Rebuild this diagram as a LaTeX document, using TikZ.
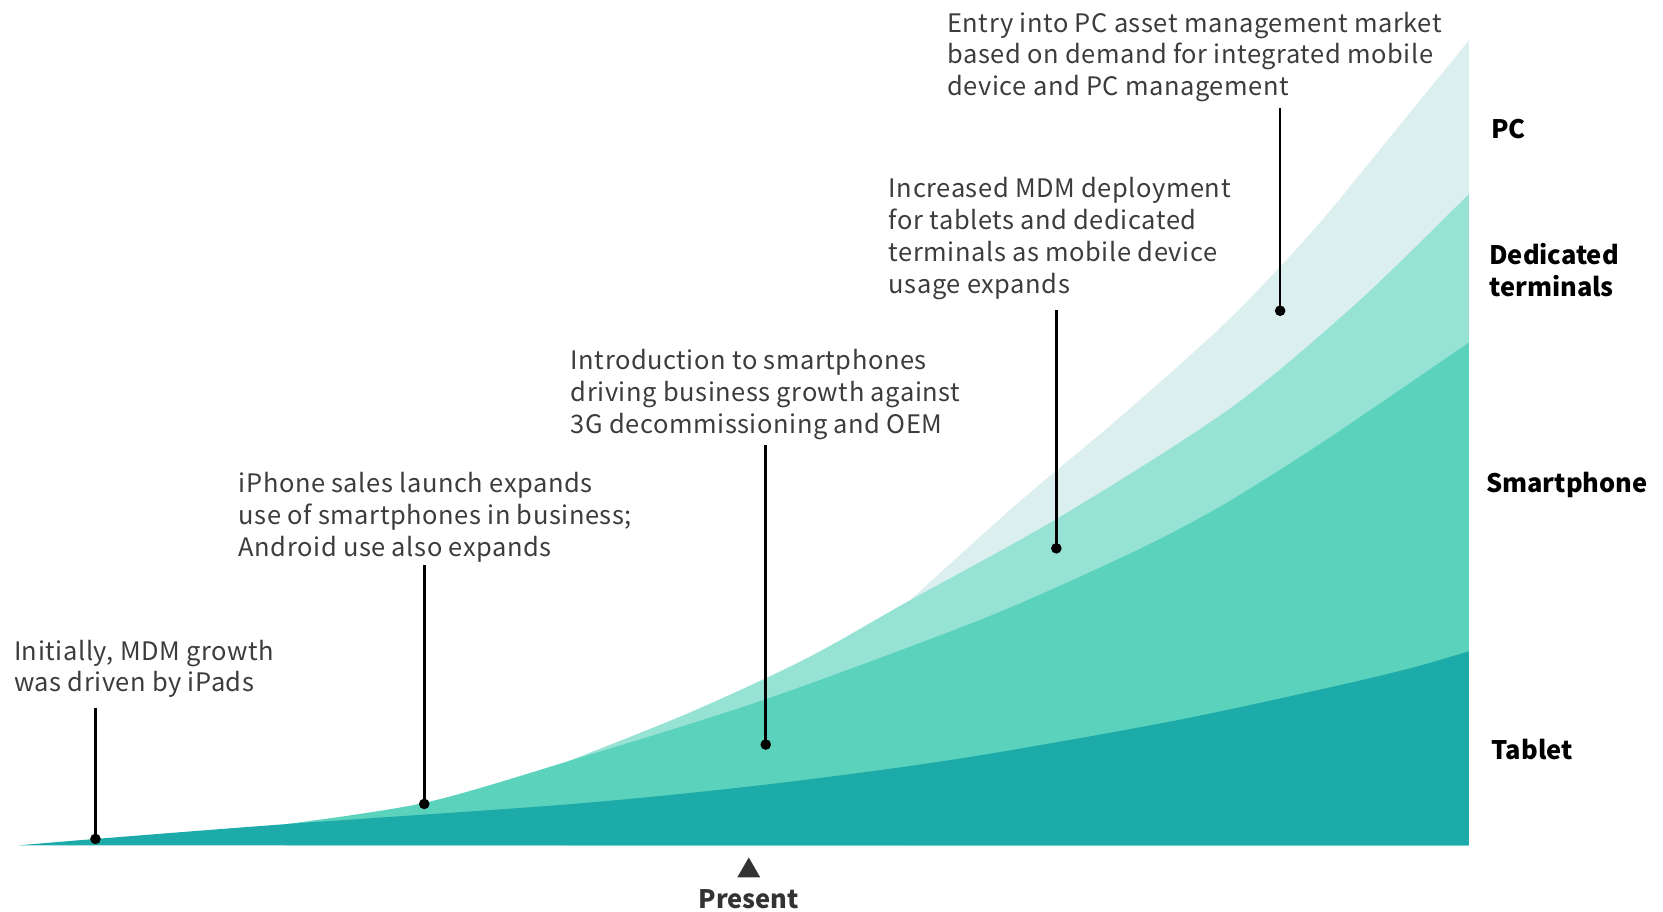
\documentclass[tikz,border=0pt]{standalone}
\usepackage{fontspec}
\newfontfamily\jpfont{Noto Sans CJK JP}
\newfontfamily\notefont[LetterSpace=2.2]{Noto Sans CJK JP}
\usetikzlibrary{shapes.geometric}
\definecolor{tabletc}{HTML}{1DABAA}
\definecolor{phonec}{HTML}{5BD2BC}
\definecolor{dedc}{HTML}{96E2D5}
\definecolor{pcc}{HTML}{DCEFEF}
\definecolor{notec}{HTML}{3C3C3C}
\definecolor{markc}{HTML}{333333}
\begin{document}
\begin{tikzpicture}[x=1pt,y=-1pt,
  note/.style={font=\notefont\fontsize{24}{30}\selectfont, text=notec, align=left, anchor=north west, inner sep=0pt},
  band/.style={font=\jpfont\bfseries\fontsize{24}{30}\selectfont, text=black, align=left, anchor=west, inner sep=0pt},
  dot/.style={circle, fill=black, inner sep=0pt, minimum size=10pt},
  lead/.style={line width=2.5pt, black}]
\useasboundingbox (0,0) rectangle (1568,859);

% stacked areas, top layer first
\fill[pcc] plot[smooth, tension=0.5] coordinates {(858,566) (960,474) (1060,390) (1160,300) (1240,215) (1310,130) (1385,38)}
  -- (1385,797) -- (858,797) -- cycle;
\fill[dedc] plot[smooth, tension=0.5] coordinates {(535,718) (650,672) (760,621) (858,566) (1000,487) (1160,385) (1280,285) (1385,183)}
  -- (1385,797) -- (535,797) -- cycle;
\fill[phonec] plot[smooth, tension=0.5] coordinates {(270,777) (400,757) (535,718) (720,660) (910,590) (1000,552) (1090,510) (1160,472) (1250,415) (1385,323)}
  -- (1385,797) -- (270,797) -- cycle;
\fill[tabletc] plot[smooth, tension=0.5] coordinates {(18,797) (90,791) (270,777) (540,758) (720,740) (900,716) (1100,681) (1250,649) (1330,630) (1385,614)}
  -- (1385,797) -- cycle;

% annotations
\node[note] (n1) at (13,603) {Initially, MDM growth\\was driven by iPads};
\node[note] (n2) at (225,445) {iPhone sales launch expands\\use of smartphones in business;\\Android use also expands};
\node[note] (n3) at (538,329) {Introduction to smartphones\\driving business growth against\\3G decommissioning and OEM};
\node[note] (n4) at (838,167) {Increased MDM deployment\\for tablets and dedicated\\terminals as mobile device\\usage expands};
\node[note] (n5) at (893,11) {Entry into PC asset management market\\based on demand for integrated mobile\\device and PC management};

\node[dot] (d1) at (90,791) {};
\node[dot] (d2) at (400,758) {};
\node[dot] (d3) at (722,702) {};
\node[dot] (d4) at (996,517) {};
\node[dot] (d5) at (1207,293) {};
\coordinate (t1) at (90,668);
\coordinate (t2) at (400,533);
\coordinate (t3) at (722,420);
\coordinate (t4) at (996,292);
\coordinate (t5) at (1207,102);
\draw[lead] (t1) -- (d1.center);
\draw[lead] (t2) -- (d2.center);
\draw[lead] (t3) -- (d3.center);
\draw[lead] (t4) -- (d4.center);
\draw[lead] (t5) -- (d5.center);

% band labels
\node[band] (lpc) at (1406,122) {PC};
\node[band] (lded) at (1404,255) {Dedicated\\terminals};
\node[band] (lphone) at (1401,457) {Smartphone};
\node[band] (ltab) at (1406,707) {Tablet};

% present marker
\node[regular polygon, regular polygon sides=3, fill=markc, inner sep=0pt, minimum size=25pt] (tri) at (706,821) {};
\node[font=\jpfont\bfseries\fontsize{24}{30}\selectfont, text=markc, inner sep=0pt] (present) at (706,848) {Present};
\end{tikzpicture}
\end{document}
